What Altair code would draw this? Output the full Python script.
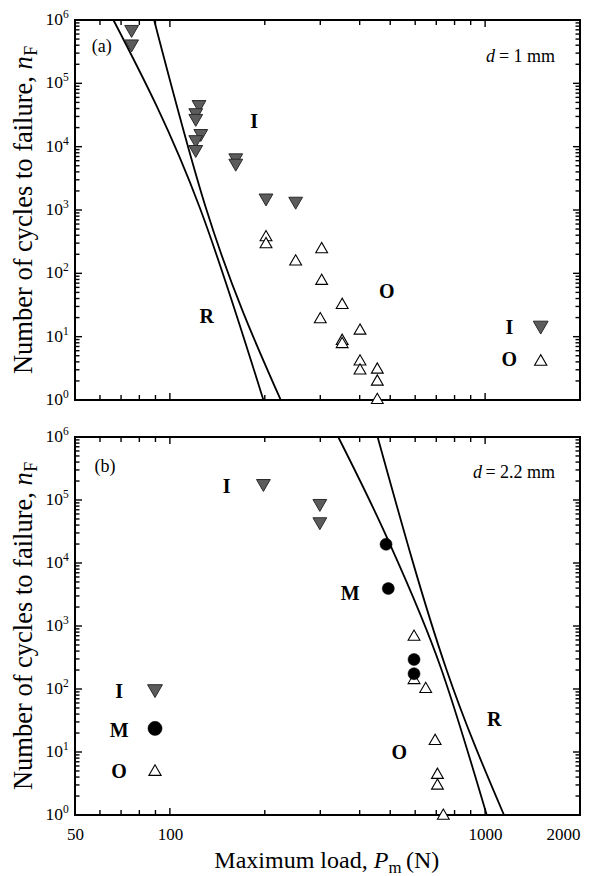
import altair as alt
import pandas as pd

FONT = "Liberation Serif"
W = 505
HA = 380
HB = 378

# ---------------- data: panel (a), d = 1 mm ----------------
a_I_load = [75.6, 75.6, 123.7, 120.8, 120.8, 125.3, 120.8, 120.8, 161.8, 161.8, 201.8, 250.6]
a_I_cycles = [6.6e5, 3.9e5, 4.3e4, 3.2e4, 2.6e4, 1.5e4, 1.2e4, 8.4e3, 6.2e3, 5.1e3, 1.44e3, 1.28e3]
a_O_load = [201.8, 201.8, 250.6, 303, 303, 300, 352, 352, 352, 401, 401, 401, 455, 455, 455]
a_O_cycles = [394, 306, 163, 255, 80.5, 20, 33.6, 9.1, 8.1, 13.2, 4.3, 3.1, 3.2, 2.07, 1.06]
a_R1_load = [66.2, 124.6, 198]
a_R1_cycles = [1e6, 1064, 1]
a_R2_load = [89.1, 130.2, 224.7]
a_R2_cycles = [1e6, 1064, 1]

# ---------------- data: panel (b), d = 2.2 mm ----------------
b_I_load = [198, 299, 299]
b_I_cycles = [1.7e5, 8.2e4, 4.2e4]
b_M_load = [485, 493, 595, 595]
b_M_cycles = [1.98e4, 3.93e3, 294, 175]
b_O_load = [595, 595, 648, 694, 706, 706, 737]
b_O_cycles = [715, 147, 106, 15.9, 4.6, 3.1, 1.03]
b_R1_load = [342, 487, 725, 1012]
b_R1_cycles = [1e6, 2.6e4, 212, 1]
b_R2_load = [456, 752, 1148]
b_R2_cycles = [1e6, 212, 1]

# ---------------- annotations ----------------
a_lab_text = ["I", "R", "O"]
a_lab_load = [184.9, 130.9, 487.5]
a_lab_cycles = [2.49e4, 20.7, 51.5]
a_tag = "(a)"
a_tag_pos = (60.8, 3.8e5)
a_d_text = "= 1 mm"
a_d_pos = (1667, 2.58e5)
a_leg_text = ["I", "O"]
a_leg_text_load = 1193
a_leg_cycles = [13.9, 4.28]
a_leg_mark_load = 1501

b_lab_text = ["I", "M", "R", "O"]
b_lab_load = [151.4, 372.9, 1068, 534]
b_lab_cycles = [1.61e5, 3.27e3, 32.1, 9.76]
b_tag = "(b)"
b_tag_pos = (62.3, 3.34e5)
b_d_text = "= 2.2 mm"
b_d_pos = (1667, 2.69e5)
b_leg_text = ["I", "M", "O"]
b_leg_text_load = 69
b_leg_text_cycles = [90.5, 21.8, 4.88]
b_leg_mark_load = 89.7
b_leg_mark_cycles = [92.5, 23.7, 5.17]

# ---------------- ticks ----------------
y_major = [1, 10, 100, 1000, 10000, 100000, 1000000]
y_exp = ["0", "1", "2", "3", "4", "5", "6"]
y_minor = [k * 10 ** d for d in range(6) for k in range(2, 10)]
x_major = [100, 1000]
x_minor = [60, 70, 80, 90, 200, 300, 400, 500, 600, 700, 800, 900]
x_labels = [50, 100, 1000, 2000]

xscale = alt.Scale(type="log", domain=[50, 2000], nice=False)
yscale = alt.Scale(type="log", domain=[1, 1e6], nice=False)

x_axis_b = alt.Axis(values=x_labels, ticks=False, domain=False, grid=False, title=None,
                    labelFont=FONT, labelFontSize=17, labelColor="black", labelPadding=11,
                    labelOverlap=False, labelFlush=False, format="d",
                    labelAlign={"condition": {"test": "datum.value >= 2000", "value": "right"},
                                "value": "center"})


def X(field, show):
    return alt.X(field + ":Q", scale=xscale, axis=(x_axis_b if show else None))


def Y(field):
    return alt.Y(field + ":Q", scale=yscale, axis=None)


def tick_layers(H, show):
    layers = []
    ymaj = pd.DataFrame({"v": y_major})
    ymin = pd.DataFrame({"v": y_minor})
    xmaj = pd.DataFrame({"v": x_major})
    xmin = pd.DataFrame({"v": x_minor})
    for df, L in ((ymaj, 7), (ymin, 4.5)):
        for x0, x1 in ((0, L), (W - L, W)):
            layers.append(alt.Chart(df).mark_rule(color="black", strokeWidth=1.4).encode(
                y=Y("v"), x=alt.value(x0), x2=alt.value(x1)))
    for df, L in ((xmaj, 7), (xmin, 5)):
        for y0, y1 in ((0, L), (H - L, H)):
            layers.append(alt.Chart(df).mark_rule(color="black", strokeWidth=1.4).encode(
                x=X("v", show), y=alt.value(y0), y2=alt.value(y1)))
    # y tick labels: "10" with a raised exponent
    lab = pd.DataFrame({"v": y_major, "e": y_exp})
    layers.append(alt.Chart(lab).mark_text(font=FONT, fontSize=17.5, align="right", baseline="middle",
                                           color="black").encode(
        y=Y("v"), x=alt.value(-12), text=alt.value("10")))
    layers.append(alt.Chart(lab).mark_text(font=FONT, fontSize=11.5, align="left", baseline="middle",
                                           dy=-5, color="black").encode(
        y=Y("v"), x=alt.value(-12), text="e:N"))
    return layers


def curve_layer(curves, show):
    rows = []
    for name, (xs, ys) in curves.items():
        for xv, yv in zip(xs, ys):
            rows.append({"curve": name, "load": xv, "cycles": yv})
    return alt.Chart(pd.DataFrame(rows)).mark_line(color="black", strokeWidth=1.8,
                                                   interpolate="monotone").encode(
        x=X("load", show), y=Y("cycles"), detail="curve:N", order="load:Q")


def pts(xs, ys, kind, show, size=None):
    df = pd.DataFrame({"load": xs, "cycles": ys})
    if kind == "I":
        m = alt.Chart(df).mark_point(shape="triangle-down", size=size or 190, filled=True,
                                     fill="#5c5c5c", stroke="#2a2a2a", strokeWidth=1,
                                     opacity=1, fillOpacity=1)
    elif kind == "O":
        m = alt.Chart(df).mark_point(shape="triangle-up", size=size or 140, filled=True,
                                     fill="white", stroke="black", strokeWidth=1.1,
                                     opacity=1, fillOpacity=1)
    else:
        m = alt.Chart(df).mark_point(shape="circle", size=size or 145, filled=True,
                                     fill="black", stroke="black", strokeWidth=0.5,
                                     opacity=1, fillOpacity=1)
    return m.encode(x=X("load", show), y=Y("cycles"))


def texts(txt, xs, ys, show, size=20, weight="bold", style="normal", align="center", dx=0):
    df = pd.DataFrame({"t": txt, "load": xs, "cycles": ys})
    return alt.Chart(df).mark_text(font=FONT, fontSize=size, fontWeight=weight, fontStyle=style,
                                   align=align, baseline="middle", dx=dx, color="black").encode(
        x=X("load", show), y=Y("cycles"), text="t:N")


def ytitle(H, show):
    fs = 26.5
    one = pd.DataFrame({"k": [0]})
    main_w = 11.247 * fs
    total = 12.386 * fs
    bottom = H / 2 + total / 2
    anchor = bottom - main_w
    xb = -43
    base = dict(font=FONT, angle=270, baseline="alphabetic", color="black")
    l1 = alt.Chart(one).mark_text(fontSize=fs, align="right", **base).encode(
        x=alt.value(xb), y=alt.value(anchor), text=alt.value("Number of cycles to failure,"))
    l2 = alt.Chart(one).mark_text(fontSize=fs, align="left", fontStyle="italic", **base).encode(
        x=alt.value(xb), y=alt.value(anchor - 0.25 * fs), text=alt.value("n"))
    l3 = alt.Chart(one).mark_text(fontSize=fs * 0.68, align="left", **base).encode(
        x=alt.value(xb + 5), y=alt.value(anchor - 0.25 * fs - 0.52 * fs), text=alt.value("F"))
    return [l1, l2, l3]


def xtitle(H):
    fs = 24
    one = pd.DataFrame({"k": [0]})
    total = 9.433 * fs
    start = W / 2 - total / 2
    anchor = start + 6.389 * fs
    yb = H + 53
    base = dict(font=FONT, baseline="alphabetic", color="black")
    l1 = alt.Chart(one).mark_text(fontSize=fs, align="right", **base).encode(
        x=alt.value(anchor), y=alt.value(yb), text=alt.value("Maximum load,"))
    px = anchor + 0.25 * fs
    l2 = alt.Chart(one).mark_text(fontSize=fs, align="left", fontStyle="italic", **base).encode(
        x=alt.value(px), y=alt.value(yb), text=alt.value("P"))
    mx = px + 0.62 * fs
    l3 = alt.Chart(one).mark_text(fontSize=fs * 0.7, align="left", **base).encode(
        x=alt.value(mx), y=alt.value(yb + 5), text=alt.value("m"))
    nx = mx + 0.78 * fs * 0.7 + 0.18 * fs
    l4 = alt.Chart(one).mark_text(fontSize=fs, align="left", **base).encode(
        x=alt.value(nx), y=alt.value(yb), text=alt.value("(N)"))
    return [l1, l2, l3, l4]


# ---------------- panel (a) ----------------
la = tick_layers(HA, False)
la.append(curve_layer({"R1": (a_R1_load, a_R1_cycles), "R2": (a_R2_load, a_R2_cycles)}, False))
la.append(pts(a_I_load, a_I_cycles, "I", False))
la.append(pts(a_O_load, a_O_cycles, "O", False))
la.append(texts(a_lab_text, a_lab_load, a_lab_cycles, False))
la.append(texts([a_tag], [a_tag_pos[0]], [a_tag_pos[1]], False, size=18, weight="normal"))
la.append(texts([a_d_text], [a_d_pos[0]], [a_d_pos[1]], False, size=18, weight="normal", align="right"))
la.append(texts(["d"], [a_d_pos[0]], [a_d_pos[1]], False, size=18, weight="normal", style="italic",
                align="right", dx=-60))
la.append(texts(a_leg_text, [a_leg_text_load] * 2, a_leg_cycles, False))
la.append(pts([a_leg_mark_load], [a_leg_cycles[0]], "I", False, size=220))
la.append(pts([a_leg_mark_load], [a_leg_cycles[1]], "O", False, size=150))
la += ytitle(HA, False)
panel_a = alt.layer(*la).properties(width=W, height=HA)

# ---------------- panel (b) ----------------
lb = tick_layers(HB, True)
lb.append(curve_layer({"R1": (b_R1_load, b_R1_cycles), "R2": (b_R2_load, b_R2_cycles)}, True))
lb.append(pts(b_I_load, b_I_cycles, "I", True))
lb.append(pts(b_O_load, b_O_cycles, "O", True))
lb.append(pts(b_M_load, b_M_cycles, "M", True))
lb.append(texts(b_lab_text, b_lab_load, b_lab_cycles, True))
lb.append(texts([b_tag], [b_tag_pos[0]], [b_tag_pos[1]], True, size=18, weight="normal"))
lb.append(texts([b_d_text], [b_d_pos[0]], [b_d_pos[1]], True, size=18, weight="normal", align="right"))
lb.append(texts(["d"], [b_d_pos[0]], [b_d_pos[1]], True, size=18, weight="normal", style="italic",
                align="right", dx=-73))
lb.append(texts(b_leg_text, [b_leg_text_load] * 3, b_leg_text_cycles, True))
lb.append(pts([b_leg_mark_load], [b_leg_mark_cycles[0]], "I", True, size=220))
lb.append(pts([b_leg_mark_load], [b_leg_mark_cycles[1]], "M", True, size=200))
lb.append(pts([b_leg_mark_load], [b_leg_mark_cycles[2]], "O", True, size=150))
lb += ytitle(HB, True)
lb += xtitle(HB)
panel_b = alt.layer(*lb).properties(width=W, height=HB)

chart = alt.vconcat(panel_a, panel_b, spacing=37, bounds="flush").properties(
    padding={"left": 2, "top": 0, "right": 5, "bottom": 0}
).configure_view(stroke="black", strokeWidth=2)

chart.save("out.html", embed_options={"renderer": "svg", "actions": False})
